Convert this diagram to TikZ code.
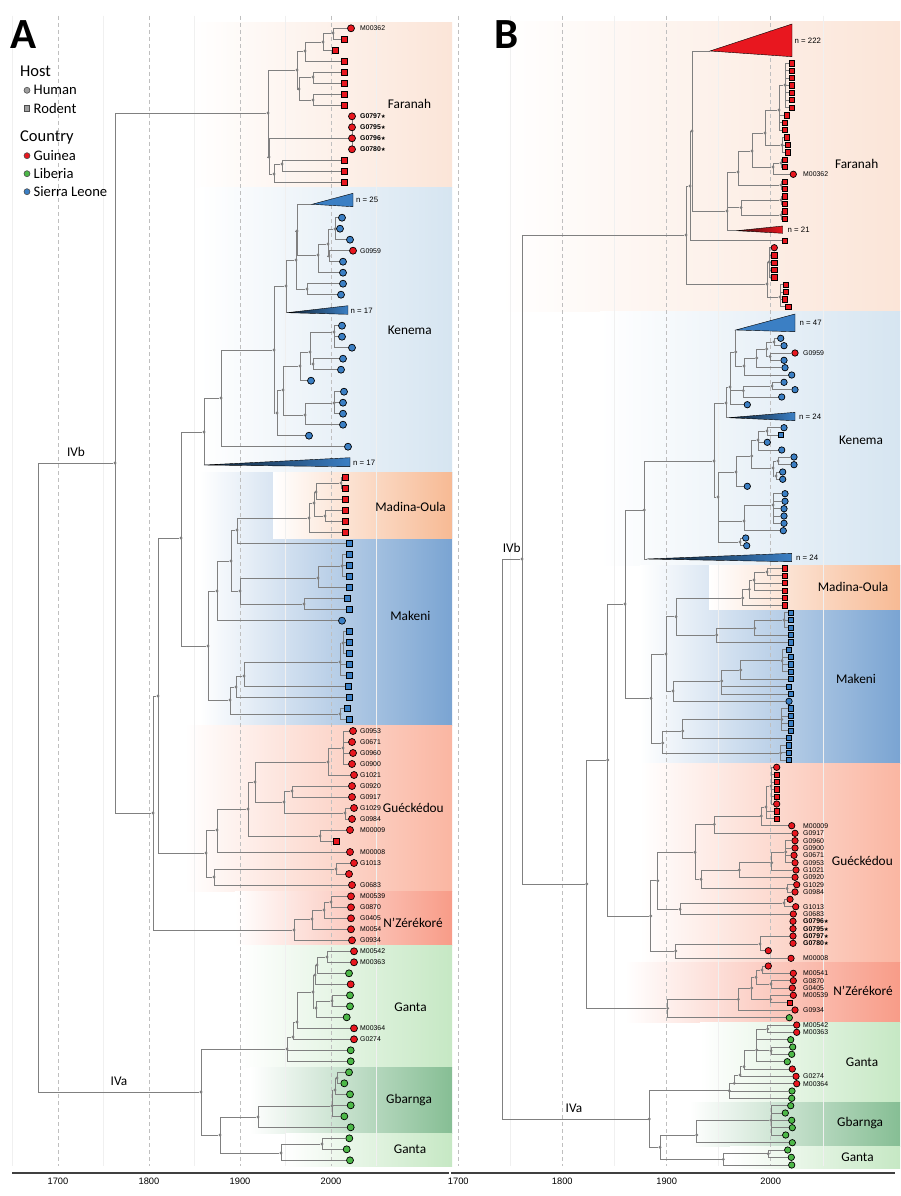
\documentclass[tikz,border=0pt]{standalone}
\usepackage{fontspec}
\setmainfont{Carlito}
\newfontfamily\arialf{Liberation Sans}
\newfontfamily\dejaf{DejaVu Sans}
\pgfdeclarelayer{bgl}
\pgfdeclarelayer{edl}
\pgfsetlayers{bgl,edl,main}
\definecolor{cr}{HTML}{E8171F}
\definecolor{cb}{HTML}{3B7FC4}
\definecolor{cg}{HTML}{4DB848}
\definecolor{tg}{HTML}{808080}
\definecolor{bF}{RGB}{251,229,216}
\definecolor{bK}{RGB}{214,229,241}
\definecolor{bM}{RGB}{122,164,210}
\definecolor{bO}{RGB}{247,186,148}
\definecolor{bG}{RGB}{250,182,162}
\definecolor{bN}{RGB}{248,156,136}
\definecolor{bL}{RGB}{198,232,196}
\definecolor{bB}{RGB}{134,190,148}
\tikzset{
 dot/.style={circle,fill=tg,inner sep=0pt,minimum size=3.2pt},
 tca/.style={circle,draw=black,line width=0.7pt,inner sep=0pt,minimum size=7pt},
 tsa/.style={rectangle,draw=black,line width=0.7pt,inner sep=0pt,minimum size=6pt},
 tcb/.style={circle,draw=black,line width=0.7pt,inner sep=0pt,minimum size=6.4pt},
 tsb/.style={rectangle,draw=black,line width=0.7pt,inner sep=0pt,minimum size=5.4pt},
 br/.style={draw=tg,line width=0.95pt},
 tl/.style={anchor=west,inner sep=0pt,font=\arialf\fontsize{6.9}{8}\selectfont},
 clade/.style={font=\fontsize{13.3}{15}\selectfont,inner sep=0pt},
 nl/.style={anchor=west,inner sep=0pt,font=\arialf\fontsize{7.8}{9}\selectfont},
 ax/.style={font=\arialf\fontsize{9.3}{10}\selectfont,inner sep=0pt},
 grd/.style={draw=gray!50,dash pattern=on 4pt off 3pt,line width=0.6pt},
 fgrd/.style={draw=gray!12,line width=0.6pt},
 leg/.style={anchor=west,inner sep=0pt,font=\fontsize{14.6}{16}\selectfont},
 legh/.style={anchor=west,inner sep=0pt,font=\fontsize{16.5}{18}\selectfont},
 tri/.style={draw=black,line width=0.4pt},
}
\newcommand\myDN[3]{\node[dot] (#1) at (#2,#3) {};}
\newcommand\myCA[4]{\node[tca,fill=#4] (#1) at (#2,#3) {};}
\newcommand\mySA[4]{\node[tsa,fill=#4] (#1) at (#2,#3) {};}
\newcommand\myCB[4]{\node[tcb,fill=#4] (#1) at (#2,#3) {};}
\newcommand\mySB[4]{\node[tsb,fill=#4] (#1) at (#2,#3) {};}
\newcommand\myE[2]{\foreach \cc in {#2}{\draw[br] (#1.center) |- (\cc);}}
\newcommand\myLA[3]{\node[tl] (LA#1) at (360,#2) {#3};}
\newcommand\myLB[3]{\node[tl] (LB#1) at (803,#2) {#3};}
\newcommand\myst[1]{\textbf{#1}{\dejaf\fontsize{5.5}{6}\selectfont ★}}
\begin{document}
\begin{tikzpicture}[x=1pt,y=-1pt]
\useasboundingbox (0,0) rectangle (900,1196);
\begin{pgfonlayer}{bgl}
\fill[white] (0,0) rectangle (900,1196);
% panel A bands
\shade[left color=white,right color=bF] (190,22.7) rectangle (452,187.3);
\shade[left color=white,right color=bK] (200,187.3) rectangle (452,472);
\shade[left color=white,right color=bM] (200,472) rectangle (452,725);
\shade[left color=white,right color=bO] (273,472) rectangle (452,538);
\shade[left color=white,right color=bG] (185,725) rectangle (452,891.7);
\shade[left color=white,right color=bN] (235,891.7) rectangle (452,945);
\shade[left color=white,right color=bL] (240,945) rectangle (452,1067);
\shade[left color=white,right color=bB] (250,1067) rectangle (452,1133);
\shade[left color=white,right color=bL] (285,1133) rectangle (452,1166);
% panel B bands
\shade[left color=white,right color=bF] (500,22) rectangle (900,311);
\shade[left color=white,right color=bK] (600,311) rectangle (900,565);
\shade[left color=white,right color=bM] (640,565) rectangle (900,763);
\shade[left color=white,right color=bO] (709,565) rectangle (900,609);
\shade[left color=white,right color=bG] (640,763) rectangle (900,962);
\shade[left color=white,right color=bN] (625,962) rectangle (900,1022);
\shade[left color=white,right color=bL] (700,1022) rectangle (900,1102);
\shade[left color=white,right color=bB] (690,1102) rectangle (900,1146);
\shade[left color=white,right color=bL] (730,1146) rectangle (900,1168);
% grid
\foreach \x in {12.5,103.5,194.5,285.5,376.5,510,614.5,718.7,823} \draw[fgrd] (\x,16) -- (\x,1166);
\foreach \x in {58,149,240,331,458.3,562.3,666.7,770.7} \draw[grd] (\x,16) -- (\x,1166);
% axes
\draw[line width=1.1pt,black!75] (12,1173) -- (449,1173);
\draw[line width=1.1pt,black!75] (451,1173) -- (895,1173);
\end{pgfonlayer}
% axis labels
\node[ax] (x1) at (58,1181) {1700};
\node[ax] (x2) at (149,1181) {1800};
\node[ax] (x3) at (240,1181) {1900};
\node[ax] (x4) at (331,1181) {2000};
\node[ax] (x5) at (458.3,1181) {1700};
\node[ax] (x6) at (562.3,1181) {1800};
\node[ax] (x7) at (666.7,1181) {1900};
\node[ax] (x8) at (770.7,1181) {2000};
% panel letters
\node[font=\fontsize{43}{45}\selectfont\bfseries,inner sep=0] (pA) at (24,34.5) {A};
\node[font=\fontsize{43}{45}\selectfont\bfseries,inner sep=0] (pB) at (506.5,34.5) {B};
% legend
\node[legh] (lh) at (20,71.7) {Host};
\node[circle,draw=black!70,fill=gray!75,minimum size=6pt,inner sep=0,line width=0.6pt] (lhm) at (27,90.3) {};
\node[leg] (lht) at (33.5,90.3) {Human};
\node[rectangle,draw=black!70,fill=gray!75,minimum size=5.4pt,inner sep=0,line width=0.6pt] (lrm) at (27,108.3) {};
\node[leg] (lrt) at (33.5,108.3) {Rodent};
\node[legh] (lc) at (20,137.7) {Country};
\node[circle,draw=black!70,fill=cr,minimum size=6pt,inner sep=0,line width=0.6pt] (lgm) at (27,155.7) {};
\node[leg] (lgt) at (33.5,155.7) {Guinea};
\node[circle,draw=black!70,fill=cg,minimum size=6pt,inner sep=0,line width=0.6pt] (llm) at (27,173.7) {};
\node[leg] (llt) at (33.5,173.7) {Liberia};
\node[circle,draw=black!70,fill=cb,minimum size=6pt,inner sep=0,line width=0.6pt] (lsm) at (27,191.7) {};
\node[leg] (lst) at (33.5,191.7) {Sierra Leone};
% clade labels A
\node[clade] (cA1) at (409.5,103.7) {Faranah};
\node[clade] (cA2) at (409.7,330) {Kenema};
\node[clade] (cA3) at (410.5,506.7) {Madina-Oula};
\node[clade] (cA4) at (410.3,615.7) {Makeni};
\node[clade] (cA5) at (413.3,808.3) {Guéckédou};
\node[clade] (cA6) at (413,922.7) {N’Zérékoré};
\node[clade] (cA7) at (410.5,1007.7) {Ganta};
\node[clade] (cA8) at (409,1100) {Gbarnga};
\node[clade] (cA9) at (410,1149.3) {Ganta};
% clade labels B
\node[clade] (cB1) at (856.7,164) {Faranah};
\node[clade] (cB2) at (861,440.7) {Kenema};
\node[clade] (cB3) at (853,586.7) {Madina-Oula};
\node[clade] (cB4) at (856,679) {Makeni};
\node[clade] (cB5) at (862.3,861) {Guéckédou};
\node[clade] (cB6) at (863,991) {N’Zérékoré};
\node[clade] (cB7) at (862,1062.3) {Ganta};
\node[clade] (cB8) at (860,1122.7) {Gbarnga};
\node[clade] (cB9) at (857.5,1157.7) {Ganta};
\node[clade] (iA1) at (76,452) {IVb};
\node[clade] (iA2) at (119,1081.7) {IVa};
\node[clade] (iB1) at (511.7,548.3) {IVb};
\node[clade] (iB2) at (574,1108.3) {IVa};

%================ PANEL A =================
\coordinate (RA) at (38,778);
\myDN{N4}{115}{463}
% Faranah
\myDN{F0}{268}{113}\myDN{F1}{297}{70}\myDN{F5}{305}{51}\myDN{F7}{323}{42}\myDN{F8}{333}{33}
\myDN{F6}{299}{89}\myDN{F9}{313}{77}\myDN{F10}{313}{100}\myDN{F2}{269}{157}\myDN{F3}{274}{174}\myDN{F4}{282}{164}
\myCA{a1}{351}{28.3}{cr}\mySA{a2}{344}{39.3}{cr}\mySA{a3}{335}{50.3}{cr}\mySA{a4}{344}{61.3}{cr}
\mySA{a5}{344}{72.3}{cr}\mySA{a6}{344}{83.3}{cr}\mySA{a7}{344}{94.3}{cr}\mySA{a8}{344}{105.3}{cr}
\myCA{a9}{352}{116.3}{cr}\myCA{a10}{352}{127.3}{cr}\myCA{a11}{352}{138.3}{cr}\myCA{a12}{352}{149.3}{cr}
\mySA{a13}{344}{160.3}{cr}\mySA{a14}{344}{171.3}{cr}\mySA{a15}{344}{182.3}{cr}
% Kenema
\myDN{KA}{204}{432}\myDN{KB}{221}{398}\myDN{KC}{274}{350}\myDN{KD}{286}{286}\myDN{KF}{296}{260}\myDN{KG}{297}{231}
\myDN{KI}{318}{255}\myDN{KJ}{328}{244}\myDN{KK}{335}{229}\myDN{KL}{329}{256}\myDN{KH}{307}{289}\myDN{KE}{277}{413}
\myDN{KN}{283}{390}\myDN{KO}{300}{366}\myDN{KQ}{310}{352}\myDN{KR}{334}{332}\myDN{KS}{313}{364}\myDN{KP}{305}{415}\myDN{KT}{334}{403}
\coordinate (T25) at (312,204.3);
\coordinate (T17a) at (287,312.7);
\coordinate (T17b) at (204,465);
\myCA{k1}{342}{217.7}{cb}\myCA{k2}{340}{228.7}{cb}\myCA{k3}{350}{239.7}{cb}\myCA{k4}{353}{250.7}{cr}
\myCA{k5}{343}{261.7}{cb}\myCA{k6}{343}{272.7}{cb}\myCA{k7}{343}{283.7}{cb}\myCA{k8}{341}{294.7}{cb}
\myCA{k9}{342}{325.7}{cb}\myCA{k10}{342}{336.7}{cb}\myCA{k11}{352}{347.7}{cb}\myCA{k12}{343}{358.7}{cb}
\myCA{k13}{341}{369.7}{cb}\myCA{k14}{311}{380.7}{cb}\myCA{k15}{344}{391.7}{cb}\myCA{k16}{343}{402.7}{cb}
\myCA{k17}{343}{413.7}{cb}\myCA{k18}{343}{424.7}{cb}\myCA{k19}{309}{435.7}{cb}\myCA{k20}{348}{446.7}{cb}
\fill[cb,tri] (T25) -- (353,193.3) -- (353,206.7) -- cycle;
\shadedraw[left color=cb!25!black,right color=cb,tri] (T17a) -- (348,305.7) -- (348,314.3) -- cycle;
\shadedraw[left color=cb!25!black,right color=cb,tri] (T17b) -- (350,457.7) -- (350,466.7) -- cycle;
\node[nl] (nA1) at (356,200.3) {n = 25};
\node[nl] (nA2) at (350.5,310.7) {n = 17};
\node[nl] (nA3) at (353,462.7) {n = 17};
% Madina-Oula / Makeni
\myDN{X1}{153}{813}\myDN{X2}{158}{696}\myDN{X3}{181}{538}\myDN{X4}{208}{646}\myDN{MB}{217}{591}\myDN{MD}{231}{561}
\myDN{MA}{237}{530}\myDN{MO}{309}{518}\myDN{MP}{314}{503}\myDN{MQ}{316}{492}\myDN{MS}{341}{483}\myDN{MR}{325}{516}
\myDN{ME}{240}{591}\myDN{MF}{318}{578}\myDN{MH}{342}{566}\myDN{MG}{304}{604}\myDN{MC}{230}{700}\myDN{MI}{236}{687}
\myDN{MK}{244}{676}\myDN{ML}{340}{662}\myDN{MM}{343}{643}\myDN{MJ}{340}{714}
\mySA{md1}{345}{477.7}{cr}\mySA{md2}{345}{488.7}{cr}\mySA{md3}{345}{499.7}{cr}\mySA{md4}{345}{510.7}{cr}\mySA{md5}{345}{521.7}{cr}\mySA{md6}{345}{532.7}{cr}
\mySA{m1}{349}{543.7}{cb}\mySA{m2}{349}{554.7}{cb}\mySA{m3}{349}{565.7}{cb}\mySA{m4}{349}{576.7}{cb}\mySA{m5}{349}{587.7}{cb}
\mySA{m6}{347}{598.7}{cb}\mySA{m7}{349}{609.7}{cb}\myCA{mc}{342}{620.7}{cb}\mySA{m8}{349}{631.7}{cb}\mySA{m9}{349}{642.7}{cb}
\mySA{m10}{349}{653.7}{cb}\mySA{m11}{349}{664.7}{cb}\mySA{m12}{349}{675.7}{cb}\mySA{m13}{348}{686.7}{cb}\mySA{m14}{349}{697.7}{cb}
\mySA{m15}{347}{708.7}{cb}\mySA{m16}{349}{719.7}{cb}
% Gueckedou
\myDN{G0}{206}{853}\myDN{GA}{217}{830}\myDN{GC}{248}{809}\myDN{GD}{255}{782}\myDN{GF}{328}{762}\myDN{GH}{343}{748}
\myDN{GG}{284}{802}\myDN{GI}{292}{791}\myDN{GJ}{345}{813}\myDN{GE}{320}{836}\myDN{GB}{214}{877}\myDN{GK}{336}{869}
\myCA{gq1}{353}{731}{cr}\myCA{gq2}{352}{742}{cr}\myCA{gq3}{353}{753}{cr}\myCA{gq4}{352}{764}{cr}\myCA{gq5}{354}{775}{cr}
\myCA{gq6}{352}{786}{cr}\myCA{gq7}{352}{797}{cr}\myCA{gq8}{354}{808}{cr}\myCA{gq9}{352}{819}{cr}\myCA{gq10}{350}{830}{cr}
\mySA{gq11}{336}{841}{cr}\myCA{gq12}{350}{852}{cr}\myCA{gq13}{354}{863}{cr}\myCA{gq14}{349}{874}{cr}\myCA{gq15}{352}{885}{cr}
% N'Zerekore
\myDN{NZ}{294}{930}\myDN{NA}{312}{919}\myDN{NB}{324}{910}\myDN{NC}{331}{902}
\myCA{nz1}{351}{896.3}{cr}\myCA{nz2}{351}{907.3}{cr}\myCA{nz3}{351}{918.3}{cr}\myCA{nz4}{351}{929.3}{cr}\myCA{nz5}{352}{940.3}{cr}
% IVa
\myDN{V0}{201}{1092}\myDN{VA}{287}{1049}\myDN{VC}{293}{1037}\myDN{VD}{297}{1022}\myDN{VF}{313}{992}\myDN{VG}{315}{975}
\myDN{VI}{317}{965}\myDN{VJ}{327}{957}\myDN{VH}{316}{1008}\myDN{VK}{332}{1001}\myDN{VB}{220}{1135}\myDN{VL}{258}{1117}
\myDN{VN}{332}{1106}\myDN{VO}{335}{1090}\myDN{VP}{337}{1078}\myDN{VM}{281}{1153}\myDN{VQ}{322}{1144}
\myCA{v1}{354}{951.3}{cr}\myCA{v2}{354}{962.3}{cr}\myCA{v3}{349}{973.3}{cg}\myCA{v4}{350.7}{984.3}{cr}\myCA{v5}{350}{995.3}{cg}
\myCA{v6}{350}{1006.3}{cg}\myCA{v7}{346.7}{1017.3}{cg}\myCA{v8}{354}{1028.3}{cr}\myCA{v9}{354}{1039.3}{cr}\myCA{v10}{350.7}{1050.3}{cg}
\myCA{v11}{350.7}{1061.3}{cg}\myCA{v12}{349}{1072.3}{cg}\myCA{v13}{344.3}{1083.3}{cg}\myCA{v14}{350}{1094.3}{cg}\myCA{v15}{350.7}{1105.3}{cg}
\myCA{v16}{344.3}{1116.3}{cg}\myCA{v17}{350.7}{1127.3}{cg}\myCA{v18}{349.3}{1138.3}{cg}\myCA{v19}{346.7}{1149.3}{cg}\myCA{v20}{350}{1160.3}{cg}
% tip labels A
\myLA{1}{28.3}{M00362}
\myLA{2}{116.3}{\myst{G0797}}\myLA{3}{127.3}{\myst{G0795}}\myLA{4}{138.3}{\myst{G0796}}\myLA{5}{149.3}{\myst{G0780}}
\myLA{6}{250.7}{G0959}
\myLA{7}{731}{G0953}\myLA{8}{742}{G0671}\myLA{9}{753}{G0960}\myLA{10}{764}{G0900}\myLA{11}{775}{G1021}
\myLA{12}{786}{G0920}\myLA{13}{797}{G0917}\myLA{14}{808}{G1029}\myLA{15}{819}{G0984}\myLA{16}{830}{M00009}
\myLA{17}{852}{M00008}\myLA{18}{863}{G1013}\myLA{19}{885}{G0683}
\myLA{20}{896.3}{M00539}\myLA{21}{907.3}{G0870}\myLA{22}{918.3}{G0405}\myLA{23}{929.3}{M0054}\myLA{24}{940.3}{G0934}
\myLA{25}{951.3}{M00542}\myLA{26}{962.3}{M00363}\myLA{27}{1028.3}{M00364}\myLA{28}{1039.3}{G0274}

%================ PANEL B =================
\coordinate (RB) at (502,839);
\myDN{N4B}{522}{559}\myDN{V0B}{649.3}{1119}
\myDN{N0}{586.7}{884}\myDN{BX}{607.7}{760}\myDN{BY}{625}{604}
% Faranah B
\myDN{FB0}{686}{235}\myDN{FB1}{690}{186}\myDN{FB3}{692}{131}\myDN{FB4}{727}{211}\myDN{FB5}{738}{172}\myDN{FB6}{752}{151}
\myDN{FB7}{781}{185}\myDN{FB8}{741}{207.6}\myDN{FB9}{781}{200}\myDN{FB10}{781}{215}\myDN{FB11}{765}{133}\myDN{FB12}{773}{167}
\myDN{FB13}{781}{163}\myDN{FB14}{779}{110}\myDN{FB15}{782}{145}\myDN{FB16}{785}{85}\myDN{FB2}{767}{284}\myDN{FB17}{769}{262}\myDN{FB18}{780}{297}
\coordinate (T222) at (710,51);
\coordinate (T21) at (736.7,230.7);
\mySB{fb1}{791.7}{63.3}{cr}\mySB{fb2}{791.7}{70.7}{cr}\mySB{fb3}{791.7}{78}{cr}\mySB{fb4}{791.7}{85.3}{cr}
\mySB{fb5}{791.7}{92.7}{cr}\mySB{fb6}{791.7}{100}{cr}\mySB{fb7}{791.7}{107.7}{cr}
\mySB{fb8}{786.7}{115.3}{cr}\mySB{fb9}{785}{122.7}{cr}\mySB{fb10}{785}{130}{cr}
\mySB{fb11}{786.7}{137.3}{cr}\mySB{fb12}{787.7}{145}{cr}\mySB{fb13}{787.7}{152.3}{cr}
\mySB{fb14}{785}{159.7}{cr}\mySB{fb15}{785}{167}{cr}\myCB{fbc}{793.3}{174.3}{cr}
\mySB{fb16}{785}{181.7}{cr}\mySB{fb17}{785}{189}{cr}\mySB{fb18}{785}{196.3}{cr}\mySB{fb19}{785}{204}{cr}
\mySB{fb20}{785}{211.3}{cr}\mySB{fb21}{785}{219}{cr}\mySB{fb22}{785}{240.7}{cr}
\myCB{fbc2}{774.3}{247.7}{cr}\mySB{fb23}{774.3}{255.3}{cr}\mySB{fb24}{774.3}{262.7}{cr}\mySB{fb25}{774.3}{270}{cr}\mySB{fb26}{774.3}{277.3}{cr}
\mySB{fb27}{786}{284.7}{cr}\mySB{fb28}{786}{292}{cr}\mySB{fb29}{785}{299.3}{cr}\mySB{fb30}{788.3}{306.7}{cr}
\fill[cr,tri] (T222) -- (792,24) -- (792,56.7) -- cycle;
\shadedraw[left color=cr!30!black,right color=cr,tri] (T21) -- (782.7,226) -- (782.7,233.3) -- cycle;
\node[nl] (nB1) at (794.5,41) {n = 222};
\node[nl] (nB2) at (787.5,230) {n = 21};
% Kenema B
\myDN{KB0}{644.3}{510}\myDN{KB1}{714}{461}\myDN{KB2}{726}{403}\myDN{KB4}{730}{387}\myDN{KB5}{735.7}{352}\myDN{KB7}{744}{366}
\myDN{KB8}{756.7}{358}\myDN{KB9}{766.7}{349}\myDN{KB10}{774}{342}\myDN{KB11}{770}{356.5}\myDN{KB6}{743.3}{390.7}\myDN{KB12}{772}{386}
\myDN{KB3}{718}{497}\myDN{KB13}{736}{472}\myDN{KB16}{751.7}{456}\myDN{KB17}{758}{440}\myDN{KB19}{767}{431}\myDN{KB18}{773}{468}
\myDN{KB20}{778}{461}\myDN{KB21}{776}{476}\myDN{KB14}{744}{521}\myDN{KB22}{773}{505}\myDN{KB15}{740}{542}
\coordinate (T47) at (735.7,330);
\coordinate (T24a) at (728.3,417.7);
\coordinate (T24b) at (646.7,559);
\myCB{kb1}{780.7}{338.3}{cb}\myCB{kb2}{784}{345.7}{cb}\myCB{kb3}{795}{353}{cr}\myCB{kb4}{784}{360.3}{cb}
\myCB{kb5}{785}{367.7}{cb}\myCB{kb6}{791.7}{375}{cb}\myCB{kb7}{784}{382.3}{cb}\myCB{kb8}{795}{389.7}{cb}
\myCB{kb9}{781.7}{397}{cb}\myCB{kb10}{747.3}{404.7}{cb}
\myCB{kb11}{784}{427.7}{cb}\mySB{kb12}{780.7}{435}{cb}\myCB{kb13}{767.3}{442.3}{cb}\myCB{kb14}{781.7}{450}{cb}
\myCB{kb15}{794}{457}{cb}\myCB{kb16}{794}{464.7}{cb}\myCB{kb17}{782.7}{472}{cb}\myCB{kb18}{782.7}{479.3}{cb}
\myCB{kb19}{747.3}{486.3}{cb}\myCB{kb20}{785}{493.7}{cb}\myCB{kb21}{785}{501.3}{cb}\myCB{kb22}{784}{508.7}{cb}
\myCB{kb23}{784}{516}{cb}\myCB{kb24}{784}{523.3}{cb}\myCB{kb25}{783.3}{530.7}{cb}\myCB{kb26}{745.7}{538}{cb}\myCB{kb27}{746.7}{545.7}{cb}
\fill[cb,tri] (T47) -- (795,314) -- (795,331.7) -- cycle;
\shadedraw[left color=cb!25!black,right color=cb,tri] (T24a) -- (795,412.3) -- (795,420.7) -- cycle;
\shadedraw[left color=cb!25!black,right color=cb,tri] (T24b) -- (791.7,553.3) -- (791.7,561.7) -- cycle;
\node[nl] (nB3) at (799.5,322.7) {n = 47};
\node[nl] (nB4) at (799,417) {n = 24};
\node[nl] (nB5) at (796,558) {n = 24};
% Makeni B
\myDN{MK0}{651}{698.3}\myDN{MK1}{666}{654}\myDN{MK3}{676}{616.7}\myDN{MOB}{742.7}{598}\myDN{MOB1}{749.3}{589.3}
\myDN{MOB2}{754}{580}\myDN{MOB3}{767}{572}\myDN{MK5}{716.7}{635}\myDN{MK6}{754.7}{628.3}\myDN{MK7}{784}{620}
\myDN{MK4}{673}{691}\myDN{MK8}{721.7}{681}\myDN{MK9}{740.7}{670}\myDN{MK10}{782}{660.7}\myDN{MK2}{662.7}{743}
\myDN{MK11}{682.7}{731}\myDN{MK13}{781.7}{719.5}\myDN{MK12}{780.7}{753}
\mySB{mo1}{785}{568.3}{cr}\mySB{mo2}{785}{575.7}{cr}\mySB{mo3}{785}{583}{cr}\mySB{mo4}{785}{590.7}{cr}\mySB{mo5}{785}{598}{cr}\mySB{mo6}{785}{605.3}{cr}
\mySB{mk1}{791}{612.7}{cb}\mySB{mk2}{791}{620}{cb}\mySB{mk3}{791}{627.7}{cb}\mySB{mk4}{791}{635}{cb}\mySB{mk5}{791}{642.3}{cb}
\mySB{mk6}{788.7}{649.7}{cb}\mySB{mk7}{791}{657}{cb}\mySB{mk8}{791}{664.3}{cb}\mySB{mk9}{791}{671.7}{cb}\mySB{mk10}{791}{679}{cb}
\mySB{mk11}{789}{686.7}{cb}\mySB{mk12}{791}{694}{cb}\myCB{mkc}{789}{701.3}{cb}\mySB{mk13}{791}{708.3}{cb}\mySB{mk14}{791}{716}{cb}
\mySB{mk15}{791}{723.3}{cb}\mySB{mk16}{791}{730.7}{cb}\mySB{mk17}{788.7}{738}{cb}\mySB{mk18}{788.7}{745.3}{cb}\mySB{mk19}{788.7}{752.7}{cb}\mySB{mk20}{788.7}{760}{cb}
% Gueckedou B
\myDN{GB0}{650.7}{916}\myDN{GB1}{657.7}{880.7}\myDN{GB3}{695}{852.3}\myDN{GB5}{714.3}{824.3}\myDN{GB7}{761.3}{816}
\myDN{GB8}{766}{807}\myDN{GB9}{771}{786}\myDN{GB6}{701}{879.3}\myDN{GB10}{739.3}{870}\myDN{GB11}{771.7}{862.7}
\myDN{GB12}{785.7}{852}\myDN{GB13}{787}{888.5}\myDN{GB4}{680}{909.3}\myDN{GB14}{784}{903}\myDN{GB2}{675.7}{951}\myDN{GB15}{760}{944}
\coordinate (GS) at (793,936.3);
\myCB{gr1}{776.7}{767.3}{cr}\mySB{gr2}{776.7}{774.7}{cr}\mySB{gr3}{776.7}{782}{cr}\mySB{gr4}{776.7}{789.3}{cr}
\mySB{gr5}{776.7}{796.7}{cr}\myCB{gr6}{776.7}{804}{cr}\mySB{gr7}{776.7}{811.3}{cr}\mySB{gr8}{776.7}{818.7}{cr}
\myCB{gb1}{791.7}{825.7}{cr}\myCB{gb2}{795}{833.3}{cr}\myCB{gb3}{795}{840.7}{cr}\myCB{gb4}{795}{848}{cr}\myCB{gb5}{794}{855.3}{cr}
\myCB{gb6}{795}{862.7}{cr}\myCB{gb7}{796}{870}{cr}\myCB{gb8}{795}{877.3}{cr}\myCB{gb9}{796.7}{884.7}{cr}\myCB{gb10}{795}{892}{cr}
\myCB{gb11}{790}{899.3}{cr}\myCB{gb12}{795.7}{906.7}{cr}\myCB{gb13}{793.3}{914}{cr}\myCB{gb14}{793}{921.3}{cr}\myCB{gb15}{793}{928.7}{cr}
\myCB{gb16}{793}{936}{cr}\myCB{gb17}{793}{943.3}{cr}\myCB{gb18}{768.3}{950.7}{cr}\myCB{gb19}{791}{958.3}{cr}
% NZ B
\myDN{NZ0}{667.7}{1008.3}\myDN{NZ1}{738.3}{999.3}\myDN{NZ2}{751.7}{988}\myDN{NZ3}{756}{977.3}\myDN{NZ6}{762}{970}
\myDN{NZ5}{771}{984}\myDN{NZ4}{770.7}{999.3}
\myCB{nzb1}{768.3}{966}{cr}\myCB{nzb2}{793.3}{973.3}{cr}\myCB{nzb3}{793.3}{980.7}{cr}\myCB{nzb4}{792.3}{988}{cr}
\myCB{nzb5}{793.3}{995.3}{cr}\mySB{nzb6}{790}{1002.7}{cr}\myCB{nzb7}{795}{1010}{cr}\myCB{nzb8}{789.3}{1017.7}{cg}
% IVa B
\myDN{VAB}{729.3}{1090.7}\myDN{VCB}{734.3}{1083.3}\myDN{VDB}{740}{1075}\myDN{VEB}{744}{1066.7}\myDN{VFB}{756.7}{1050}
\myDN{VGB}{767.7}{1029}\myDN{VHB}{771}{1050.7}\myDN{VBB}{660}{1147.3}\myDN{VIB}{696.7}{1135}\myDN{VKB}{771}{1120.3}
\myDN{VJB}{723.3}{1159.3}\myDN{VMB}{768.3}{1153.7}
\myCB{vb1}{796.7}{1025}{cr}\myCB{vb2}{796.7}{1032.3}{cr}\myCB{vb3}{790.7}{1039.7}{cg}\myCB{vb4}{792.7}{1047}{cg}
\myCB{vb5}{791.7}{1054.3}{cg}\myCB{vb6}{787.3}{1061.7}{cg}\myCB{vb7}{792.3}{1069}{cr}\myCB{vb8}{796}{1076.3}{cr}
\myCB{vb9}{796.7}{1083.7}{cr}\myCB{vb10}{792}{1091}{cg}\myCB{vb11}{791.7}{1098.3}{cg}\myCB{vb12}{790.7}{1105.7}{cg}
\myCB{vb13}{785.3}{1113}{cg}\myCB{vb14}{791.7}{1120.3}{cg}\myCB{vb15}{792.3}{1127.7}{cg}\myCB{vb16}{785.7}{1135}{cg}
\myCB{vb17}{792.3}{1142.7}{cg}\myCB{vb18}{787.7}{1150}{cg}\myCB{vb19}{791.3}{1157.3}{cg}\myCB{vb20}{791.7}{1165}{cg}
% tip labels B
\myLB{1}{174.3}{M00362}\myLB{2}{353}{G0959}
\myLB{3}{825.7}{M00009}\myLB{4}{833.3}{G0917}\myLB{5}{840.7}{G0960}\myLB{6}{848}{G0900}\myLB{7}{855.3}{G0671}
\myLB{8}{862.7}{G0953}\myLB{9}{870}{G1021}\myLB{10}{877.3}{G0920}\myLB{11}{884.7}{G1029}\myLB{12}{892}{G0984}
\myLB{13}{906.7}{G1013}\myLB{14}{914}{G0683}
\myLB{15}{921.3}{\myst{G0796}}\myLB{16}{928.7}{\myst{G0795}}\myLB{17}{936}{\myst{G0797}}\myLB{18}{943.3}{\myst{G0780}}
\myLB{19}{958.3}{M00008}\myLB{20}{973.3}{M00541}\myLB{21}{980.7}{G0870}\myLB{22}{988}{G0405}\myLB{23}{995.3}{M00539}
\myLB{24}{1010}{G0934}\myLB{25}{1025}{M00542}\myLB{26}{1032.3}{M00363}\myLB{27}{1076.3}{G0274}\myLB{28}{1083.7}{M00364}

%================ EDGES =================
\begin{pgfonlayer}{edl}
% A
\myE{RA}{N4,V0}\myE{N4}{F0,X1}
\myE{F0}{F1,F2}\myE{F1}{F5,F6}\myE{F5}{F7,a4}\myE{F7}{F8,a3}\myE{F8}{a1,a2}\myE{F6}{F9,F10}
\myE{F9}{a5,a6}\myE{F10}{a7,a8}\myE{F2}{a11,F3}\myE{F3}{F4,a15}\myE{F4}{a13,a14}
\draw[br] (a9.center) -- (a12.center);
\myE{KA}{KB,T17b}\myE{KB}{KC,k20}\myE{KC}{KD,KE}\myE{KD}{KF,T17a}\myE{KF}{KG,KH}\myE{KG}{T25,KI}
\myE{KI}{KJ,k6}\myE{KJ}{KK,KL}\myE{KK}{k1,k2,k3}\myE{KL}{k4,k5}\myE{KH}{k7,k8}\myE{KE}{KN,k19}
\myE{KN}{KO,KP}\myE{KO}{KQ,k14}\myE{KQ}{KR,KS}\myE{KR}{k9,k10,k11}\myE{KS}{k12,k13}\myE{KP}{KT,k18}\myE{KT}{k15,k16,k17}
\myE{X1}{X2,NZ}\myE{X2}{X3,G0}\myE{X3}{KA,X4}\myE{X4}{MB,MC}\myE{MB}{MD,mc}\myE{MD}{MA,ME}\myE{MA}{MO,m1}
\myE{MO}{MP,md6}\myE{MP}{MQ,MR}\myE{MQ}{MS,md3}\myE{MS}{md1,md2}\myE{MR}{md4,md5}\myE{ME}{MF,MG}\myE{MF}{MH,m5}
\myE{MH}{m2,m3,m4}\myE{MG}{m6,m7}\myE{MC}{MI,MJ}\myE{MI}{MK,m14}\myE{MK}{ML,m13}\myE{ML}{MM,m11,m12}\myE{MM}{m8,m9,m10}\myE{MJ}{m15,m16}
\myE{G0}{GA,GB}\myE{GA}{GC,gq12}\myE{GC}{GD,GE}\myE{GD}{GF,GG}\myE{GF}{GH,gq5}\myE{GH}{gq1,gq2,gq3,gq4}
\myE{GG}{GI,GJ}\myE{GI}{gq6,gq7}\myE{GJ}{gq8,gq9}\myE{GE}{gq10,gq11}\myE{GB}{GK,gq15}\myE{GK}{gq13,gq14}
\myE{NZ}{NA,nz5}\myE{NA}{NB,nz4}\myE{NB}{NC,nz3}\myE{NC}{nz1,nz2}
\myE{V0}{VA,VB}\myE{VA}{VC,v10,v11}\myE{VC}{VD,v9}\myE{VD}{VF,v8}\myE{VF}{VG,VH}\myE{VG}{VI,v4}\myE{VI}{VJ,v3}
\myE{VJ}{v1,v2}\myE{VH}{VK,v7}\myE{VK}{v5,v6}\myE{VB}{VL,VM}\myE{VL}{VN,v17}\myE{VN}{VO,v15,v16}\myE{VO}{VP,v14}
\myE{VP}{v12,v13}\myE{VM}{VQ,v20}\myE{VQ}{v18,v19}
% B
\myE{RB}{N4B,V0B}\myE{N4B}{FB0,N0}\myE{N0}{BX,NZ0}\myE{BX}{BY,GB0}\myE{BY}{KB0,MK0}
\myE{FB0}{FB1,FB2}\myE{FB1}{FB3,fb22}\myE{FB3}{T222,FB4}\myE{FB4}{FB5,FB8,T21}\myE{FB5}{FB6,FB7}\myE{FB7}{fb16,fb17}
\myE{FB8}{FB9,FB10}\myE{FB9}{fb18,fb19}\myE{FB10}{fb20,fb21}\myE{FB6}{FB11,FB12}\myE{FB12}{FB13,fbc}\myE{FB13}{fb14,fb15}
\myE{FB11}{FB14,FB15}\myE{FB15}{fb11,fb12,fb13}\myE{FB14}{FB16,fb8,fb9,fb10}\myE{FB16}{fb1,fb2,fb3,fb4,fb5,fb6,fb7}
\myE{FB2}{FB17,FB18}\myE{FB17}{fbc2,fb23,fb24,fb25,fb26}\myE{FB18}{fb27,fb28,fb29,fb30}
\myE{KB0}{KB1,T24b}\myE{KB1}{KB2,KB3}\myE{KB2}{KB4,T24a}\myE{KB4}{KB5,KB6,kb10}\myE{KB5}{T47,KB7}\myE{KB7}{KB8,kb6}
\myE{KB8}{KB9,kb5}\myE{KB9}{KB10,KB11}\myE{KB10}{kb1,kb2}\myE{KB11}{kb3,kb4}\myE{KB6}{KB12,kb9}\myE{KB12}{kb7,kb8}
\myE{KB3}{KB13,KB14,KB15}\myE{KB13}{KB16,kb19}\myE{KB16}{KB17,KB18}\myE{KB17}{KB19,kb13,kb14}\myE{KB19}{kb11,kb12}
\myE{KB18}{KB20,KB21}\myE{KB20}{kb15,kb16}\myE{KB21}{kb17,kb18}\myE{KB14}{KB22,kb25}\myE{KB22}{kb20,kb21,kb22,kb23,kb24}\myE{KB15}{kb26,kb27}
\myE{MK0}{MK1,MK2}\myE{MK1}{MK3,MK4}\myE{MK3}{MOB,MK5}\myE{MOB}{MOB1,mo6}\myE{MOB1}{MOB2,mo5}\myE{MOB2}{MOB3,mo3,mo4}
\myE{MOB3}{mo1,mo2}\myE{MK5}{MK6,mk5}\myE{MK6}{MK7,mk4}\myE{MK7}{mk1,mk2,mk3}\myE{MK4}{MK8,mkc}\myE{MK8}{MK9,mk11,mk12}
\myE{MK9}{MK10,mk10}\myE{MK10}{mk6,mk7,mk8,mk9}\myE{MK2}{MK11,MK12}\myE{MK11}{MK13,mk17}\myE{MK13}{mk13,mk14,mk15,mk16}\myE{MK12}{mk18,mk19,mk20}
\myE{GB0}{GB1,GB2}\myE{GB1}{GB3,GB4}\myE{GB3}{GB5,GB6}\myE{GB5}{GB7,gb2}\myE{GB7}{GB8,gb1}\myE{GB8}{GB9,gr7,gr8}
\myE{GB9}{gr1,gr2,gr3,gr4,gr5,gr6}\myE{GB6}{GB10,GB13}\myE{GB10}{GB11,gb8}\myE{GB11}{GB12,gb7}\myE{GB12}{gb3,gb4,gb5,gb6}
\myE{GB13}{gb9,gb10}\myE{GB4}{GB14,gb13}\myE{GB14}{gb11,gb12}\myE{GB2}{GB15,gb19}\myE{GB15}{GS,gb18}
\draw[br] (gb14.center) -- (gb17.center);
\myE{NZ0}{NZ1,nzb8}\myE{NZ1}{NZ2,nzb7}\myE{NZ2}{NZ3,NZ4}\myE{NZ3}{NZ6,NZ5}\myE{NZ6}{nzb1,nzb2}\myE{NZ5}{nzb3,nzb4}\myE{NZ4}{nzb5,nzb6}
\myE{V0B}{VAB,VBB}\myE{VAB}{VCB,vb10,vb11}\myE{VCB}{VDB,vb9}\myE{VDB}{VEB,vb8}\myE{VEB}{VFB,vb7}\myE{VFB}{VGB,vb3,VHB,vb6}
\myE{VGB}{vb1,vb2}\myE{VHB}{vb4,vb5}\myE{VBB}{VIB,VJB}\myE{VIB}{VKB,vb17}\myE{VKB}{vb12,vb13,vb14,vb15,vb16}\myE{VJB}{VMB,vb20}\myE{VMB}{vb18,vb19}
\end{pgfonlayer}
\end{tikzpicture}
\end{document}
